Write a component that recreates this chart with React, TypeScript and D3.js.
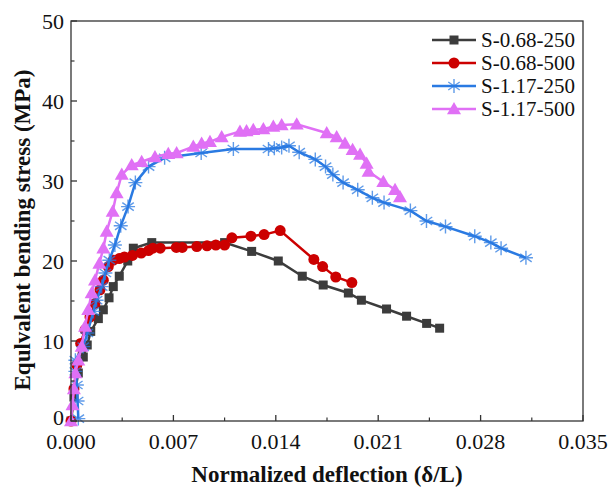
import React from "react";
import * as d3 from "d3";

const xTicks = [0, 0.007, 0.014, 0.021, 0.028, 0.035];
const yTicks = [0, 10, 20, 30, 40, 50];
const seriesNames = ["S-0.68-250", "S-0.68-500", "S-1.17-250", "S-1.17-500"];

const s068_250: [number, number][] = [
  [0, 0], [0.0002, 3], [0.0005, 6], [0.00084, 8.0], [0.00111, 9.5], [0.00135, 11.2],
  [0.00187, 12.8], [0.00221, 13.9], [0.0026, 15.4], [0.00289, 16.8], [0.0033, 18.1],
  [0.00388, 20.0], [0.00426, 21.6], [0.00552, 22.3], [0.0105, 22.3], [0.01235, 21.2],
  [0.01417, 20.0], [0.01581, 18.1], [0.01724, 17.0], [0.01896, 16.0], [0.01985, 15.1],
  [0.02157, 14.0], [0.02294, 13.1], [0.02431, 12.2], [0.0252, 11.6],
];

const s068_500: [number, number][] = [
  [0, 0], [0.0002, 4], [0.0004, 7], [0.00066, 9.7], [0.00096, 11.4], [0.0013, 13.0],
  [0.00164, 14.7], [0.00198, 16.4], [0.00221, 17.6], [0.00255, 19.3], [0.00289, 20.1],
  [0.0033, 20.3], [0.00365, 20.5], [0.0042, 20.7], [0.0048, 21.0], [0.0053, 21.3],
  [0.0056, 21.6], [0.0061, 21.6], [0.0072, 21.7], [0.0076, 21.7], [0.0086, 21.8],
  [0.0093, 21.9], [0.0099, 22.0], [0.0105, 22.0], [0.011, 22.9], [0.0123, 23.1],
  [0.0132, 23.3], [0.0143, 23.8], [0.0166, 20.2], [0.0172, 19.3], [0.0181, 18.0],
  [0.0192, 17.3],
];

const s117_250: [number, number][] = [
  [0.0005, 0.3], [0.00045, 2.5], [0.0004, 4.5], [0.0003, 6.2], [0.0003, 7.6],
  [0.00084, 9.3], [0.00112, 11.0], [0.00153, 13.7], [0.00175, 15.1], [0.0021, 16.8],
  [0.00235, 18.5], [0.00262, 20.1], [0.003, 22.0], [0.0034, 24.4], [0.0039, 26.8],
  [0.0044, 29.8], [0.0053, 31.8], [0.0064, 32.9], [0.0089, 33.5], [0.0111, 34.0],
  [0.0135, 34.0], [0.0139, 34.1], [0.0144, 34.2], [0.0149, 34.4], [0.0156, 33.6],
  [0.0167, 32.7], [0.0174, 31.8], [0.0179, 30.8], [0.0186, 29.8], [0.0196, 28.9],
  [0.0206, 27.9], [0.0214, 27.3], [0.0232, 26.3], [0.0243, 25.0], [0.0256, 24.3],
  [0.0276, 23.1], [0.0287, 22.3], [0.0294, 21.6], [0.0311, 20.4],
];

const s117_500: [number, number][] = [
  [0, 0], [0.0001, 2], [0.0002, 4], [0.0003, 6], [0.0005, 7.6], [0.00073, 9.3],
  [0.00096, 11.8], [0.00118, 13.9], [0.00141, 16.0], [0.00164, 17.6], [0.00194, 19.7],
  [0.00221, 21.6], [0.00244, 23.7], [0.00285, 26.2], [0.00312, 28.5], [0.00347, 30.8],
  [0.00415, 32.0], [0.00483, 32.4], [0.00574, 33.0], [0.00665, 33.4], [0.00722, 33.5],
  [0.00836, 34.3], [0.00893, 34.7], [0.0095, 34.9], [0.0103, 35.5], [0.01155, 36.2],
  [0.012, 36.25], [0.01246, 36.4], [0.01315, 36.5], [0.01383, 36.8], [0.0144, 37.0],
  [0.01543, 37.1], [0.01748, 36.0], [0.01816, 35.5], [0.01873, 34.7], [0.01925, 33.9],
  [0.01976, 33.3], [0.02021, 32.2], [0.02034, 31.2], [0.02135, 29.9], [0.02215, 28.9],
  [0.02249, 28.0],
];

const allSeries = [s068_250, s068_500, s117_250, s117_500];
const colors = ["#3c3c3c", "#cc0000", "#2a7ae2", "#e070f5"];
const shapes = ["square", "circle", "star", "triangle"];

const W = 616, H = 493;
const L = 71, R = 583, T = 21, B = 421;
const FONT = "Liberation Serif";

function Marker({ shape, x, y, color }: { shape: string; x: number; y: number; color: string }) {
  if (shape === "square") return <rect x={x - 4.5} y={y - 4.5} width={9} height={9} fill={color} />;
  if (shape === "circle") return <circle cx={x} cy={y} r={5.5} fill={color} />;
  if (shape === "triangle") {
    const s = 7;
    return <path d={`M${x},${y - s}L${x + s},${y + s * 0.75}L${x - s},${y + s * 0.75}Z`} fill={color} />;
  }
  const r = 7;
  const a = (35 * Math.PI) / 180;
  const dx = r * Math.cos(a), dy = r * Math.sin(a);
  return (
    <path
      d={`M${x},${y - r}L${x},${y + r}M${x - dx},${y - dy}L${x + dx},${y + dy}M${x - dx},${y + dy}L${x + dx},${y - dy}M${x - r},${y}L${x + r},${y}`}
      stroke={color}
      strokeWidth={1.4}
      strokeOpacity={0.75}
      fill="none"
    />
  );
}

export default function App() {
  const x = d3.scaleLinear().domain([0, 0.035]).range([L, R]);
  const y = d3.scaleLinear().domain([0, 50]).range([B, T]);
  const line = d3.line<[number, number]>().x((d) => x(d[0])).y((d) => y(d[1]));
  const xMinor = d3.range(0, 5).map((i) => 0.0035 + i * 0.007);
  const yMinor = d3.range(0, 5).map((i) => 5 + i * 10);

  return (
    <svg width={W} height={H} fontFamily={FONT} style={{ display: "block", position: "absolute", left: 0, top: 0 }}>
      <rect x={0} y={0} width={W} height={H} fill="#fff" />
      {allSeries.map((s, i) => (
        <g key={i}>
          <path d={line(s) || ""} fill="none" stroke={colors[i]} strokeWidth={2.5} />
          {s.map((d, j) => (
            <Marker key={j} shape={shapes[i]} x={x(d[0])} y={y(d[1])} color={colors[i]} />
          ))}
        </g>
      ))}
      <rect x={L} y={T} width={R - L} height={B - T} fill="none" stroke="#333" strokeWidth={1.3} />
      {xTicks.map((t) => (
        <g key={"xt" + t}>
          <line x1={x(t)} x2={x(t)} y1={B} y2={B - 6} stroke="#333" strokeWidth={1.3} />
          <text x={x(t)} y={449} fontSize={22} textAnchor="middle" fill="#111" fontFamily={FONT}>
            {t.toFixed(3)}
          </text>
        </g>
      ))}
      {xMinor.map((t) => (
        <line key={"xm" + t} x1={x(t)} x2={x(t)} y1={B} y2={B - 3.5} stroke="#333" strokeWidth={1.2} />
      ))}
      {yTicks.map((t) => (
        <g key={"yt" + t}>
          <line x1={L} x2={L + 6} y1={y(t)} y2={y(t)} stroke="#333" strokeWidth={1.3} />
          <text x={64} y={y(t) + (t === 0 ? 4 : 7.5)} fontSize={22} textAnchor="end" fill="#111" fontFamily={FONT}>
            {t}
          </text>
        </g>
      ))}
      {yMinor.map((t) => (
        <line key={"ym" + t} x1={L} x2={L + 3.5} y1={y(t)} y2={y(t)} stroke="#333" strokeWidth={1.2} />
      ))}
      <text x={(L + R) / 2} y={482} fontSize={23} fontWeight="bold" textAnchor="middle" fill="#111" fontFamily={FONT}>
        Normalized deflection (δ/L)
      </text>
      <text
        transform={`translate(30,${(T + B) / 2 + 9}) rotate(-90)`}
        fontSize={23}
        fontWeight="bold"
        textAnchor="middle"
        fill="#111"
        fontFamily={FONT}
      >
        Equlvalent bending stress (MPa)
      </text>
      {seriesNames.map((n, i) => {
        const ly = 40 + i * 23;
        return (
          <g key={n}>
            <line x1={432} x2={476} y1={ly} y2={ly} stroke={colors[i]} strokeWidth={2.5} />
            <Marker shape={shapes[i]} x={454} y={ly} color={colors[i]} />
            <text x={481} y={ly + 7} fontSize={21} fill="#111" fontFamily={FONT}>
              {n}
            </text>
          </g>
        );
      })}
    </svg>
  );
}
